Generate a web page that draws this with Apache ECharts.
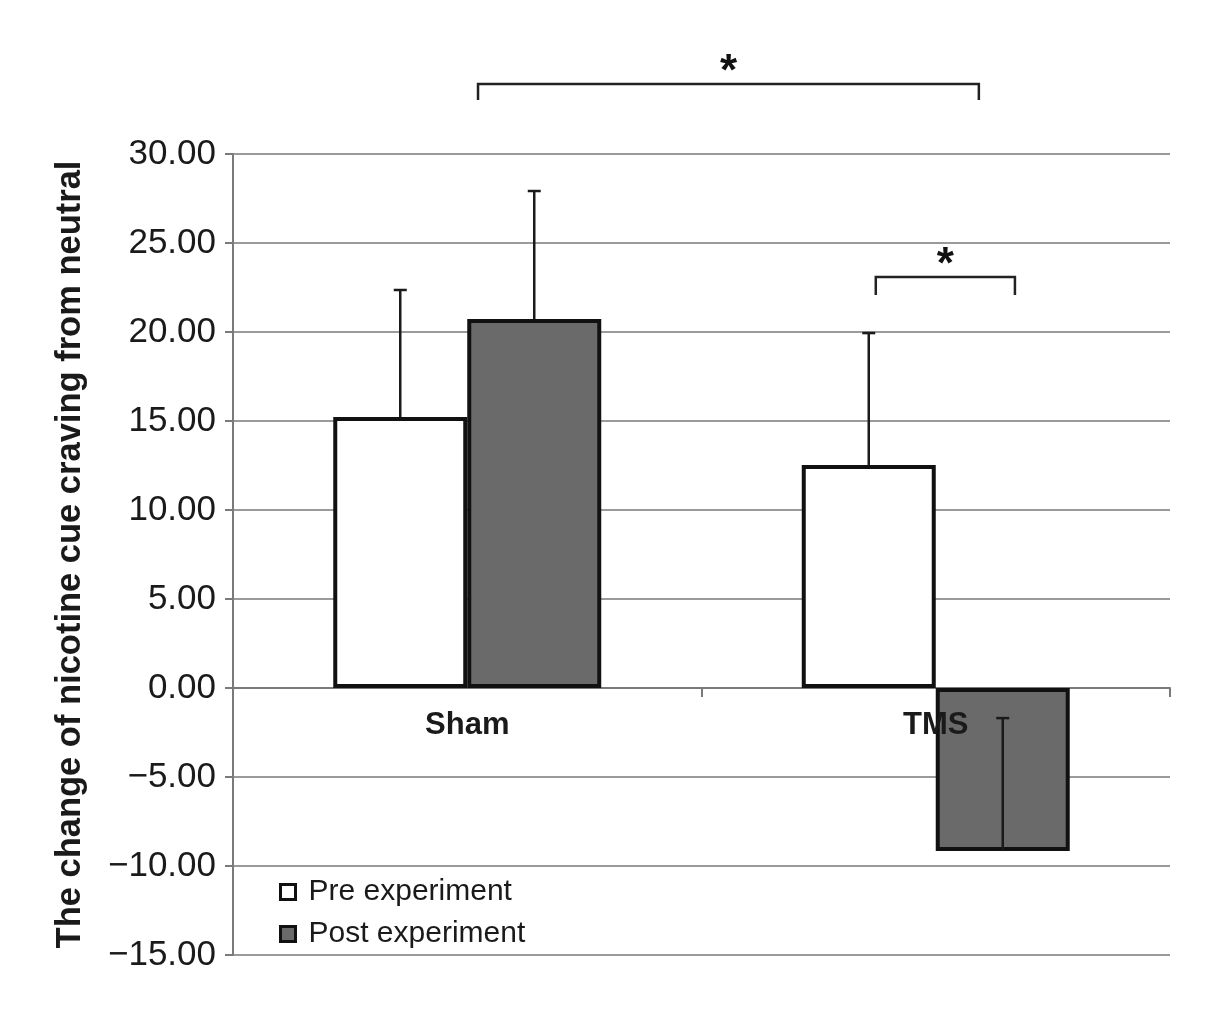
<!DOCTYPE html>
<html>
<head>
<meta charset="utf-8">
<script src="https://cdn.jsdelivr.net/npm/echarts@6/dist/echarts.min.js"></script>
<style>
html,body{margin:0;padding:0;background:#fff;}
#main{width:1211px;height:1024px;}
</style>
</head>
<body>
<div id="main"></div>
<script>
// ---- data ----
const categories = ['Sham', 'TMS'];
const seriesNames = ['Pre experiment', 'Post experiment'];
const preValues = [15.22, 12.53];
const postValues = [20.73, -9.16];
const preErrors = [7.14, 7.41];
const postErrors = [7.19, 7.47];
const yTicks = [-15, -10, -5, 0, 5, 10, 15, 20, 25, 30];
const yAxisTitle = 'The change of nicotine cue craving from neutral';
// significance brackets: [left (category units), right (category units), top value, bottom value]
const bracketLeft = [0.023, 0.872];
const bracketRight = [1.092, 1.169];
const bracketTop = [33.93, 23.09];
const bracketBottom = [33.03, 22.08];
const bracketLabel = ['*', '*'];

const CAT_GAP = 0.428; // barCategoryGap fraction
const FONT = 'Liberation Sans, Arial, Helvetica, sans-serif';
const TXT = '#1a1a1a';

const chart = echarts.init(document.getElementById('main'), null, {renderer: 'canvas'});

function errorRender(seriesIdx, values, errors) {
  return function (params, api) {
    const i = api.value(0);
    const v = values[i];
    const e = errors[i];
    const band = api.size([1, 0])[0];
    const barW = band * (1 - CAT_GAP) / 2;
    const off = seriesIdx === 0 ? -barW / 2 : barW / 2;
    const p0 = api.coord([i, v]);
    const p1 = api.coord([i, v + e]);
    const x = p0[0] + off;
    const cap = 6.5;
    const style = {stroke: '#1a1a1a', lineWidth: 2.5};
    return {
      type: 'group',
      children: [
        {type: 'line', shape: {x1: x, y1: p0[1], x2: x, y2: p1[1]}, style: style},
        {type: 'line', shape: {x1: x - cap, y1: p1[1], x2: x + cap, y2: p1[1]}, style: style}
      ]
    };
  };
}

const bracketData = bracketLeft.map((l, i) => [i, l, bracketRight[i], bracketTop[i], bracketBottom[i]]);

const option = {
  backgroundColor: '#fff',
  animation: false,
  grid: {left: 233, right: 41, top: 154, bottom: 69, containLabel: false},
  legend: {
    orient: 'vertical',
    left: 274,
    top: 872,
    itemWidth: 15,
    itemHeight: 15,
    itemGap: 12,
    icon: 'rect',
    data: seriesNames,
    itemStyle: {borderColor: '#111', borderWidth: 3},
    textStyle: {fontFamily: FONT, fontSize: 30, color: TXT, padding: [0, 0, 0, 8]}
  },
  xAxis: {
    type: 'category',
    data: categories,
    axisLine: {onZero: true, lineStyle: {color: '#7a7a7a', width: 2}},
    axisTick: {show: true, length: 9, lineStyle: {color: '#7a7a7a', width: 2}},
    axisLabel: {show: false},
    splitLine: {show: false}
  },
  yAxis: {
    type: 'value',
    min: -15,
    max: 30,
    interval: 5,
    name: yAxisTitle,
    nameLocation: 'middle',
    nameGap: 145,
    nameRotate: 90,
    nameTextStyle: {fontFamily: FONT, fontSize: 34.5, fontWeight: 'bold', color: TXT},
    axisLine: {show: true, lineStyle: {color: '#7a7a7a', width: 2}},
    axisTick: {show: true, length: 8, lineStyle: {color: '#7a7a7a', width: 2}},
    axisLabel: {
      fontFamily: FONT, fontSize: 35, color: TXT, margin: 17,
      formatter: function (v) { return v < 0 ? '\u2212' + Math.abs(v).toFixed(2) : v.toFixed(2); }
    },
    splitLine: {show: true, lineStyle: {color: '#9a9a9a', width: 2}}
  },
  series: [
    {
      name: seriesNames[0], type: 'bar', data: preValues,
      barGap: '0%', barCategoryGap: (CAT_GAP * 100) + '%',
      itemStyle: {color: '#ffffff', borderColor: '#111', borderWidth: 4},
      z: 2
    },
    {
      name: seriesNames[1], type: 'bar', data: postValues,
      barGap: '0%', barCategoryGap: (CAT_GAP * 100) + '%',
      itemStyle: {color: '#6a6a6a', borderColor: '#111', borderWidth: 4},
      z: 2
    },
    {
      type: 'custom', name: 'preErr', data: categories.map((c, i) => [i]),
      renderItem: errorRender(0, preValues, preErrors), z: 5, silent: true
    },
    {
      type: 'custom', name: 'postErr', data: categories.map((c, i) => [i]),
      renderItem: errorRender(1, postValues, postErrors), z: 5, silent: true
    },
    {
      // category labels drawn just below the zero line
      type: 'custom', name: 'catLabels', data: categories.map((c, i) => [i, 0]), clip: false, silent: true, z: 7,
      renderItem: function (params, api) {
        const i = api.value(0);
        const p = api.coord([i, 0]);
        return {
          type: 'text', x: p[0], y: p[1] + 37,
          style: {text: categories[i], fontFamily: FONT, fontSize: 31, fontWeight: 'bold', fill: TXT,
            align: 'center', verticalAlign: 'middle'}
        };
      }
    },
    {
      type: 'custom', name: 'brackets', data: bracketData, clip: false, silent: true, z: 6,
      renderItem: function (params, api) {
        const idx = api.value(0);
        const l = api.value(1), r = api.value(2), top = api.value(3), bot = api.value(4);
        const band = api.size([1, 0])[0];
        const base = api.coord([0, top]);
        const yTop = base[1];
        const yBot = api.coord([0, bot])[1];
        const xl = base[0] + l * band;
        const xr = base[0] + r * band;
        const style = {stroke: '#222', lineWidth: 2.5, fill: null};
        return {
          type: 'group',
          children: [
            {type: 'polyline', shape: {points: [[xl, yBot], [xl, yTop], [xr, yTop], [xr, yBot]]}, style: style},
            {type: 'text', x: (xl + xr) / 2, y: yTop + 11, style: {
              text: bracketLabel[idx], fontFamily: FONT, fontSize: 44, fontWeight: 'bold', fill: '#111',
              align: 'center', verticalAlign: 'bottom'}}
          ]
        };
      }
    }
  ]
};
chart.setOption(option);
</script>
</body>
</html>
